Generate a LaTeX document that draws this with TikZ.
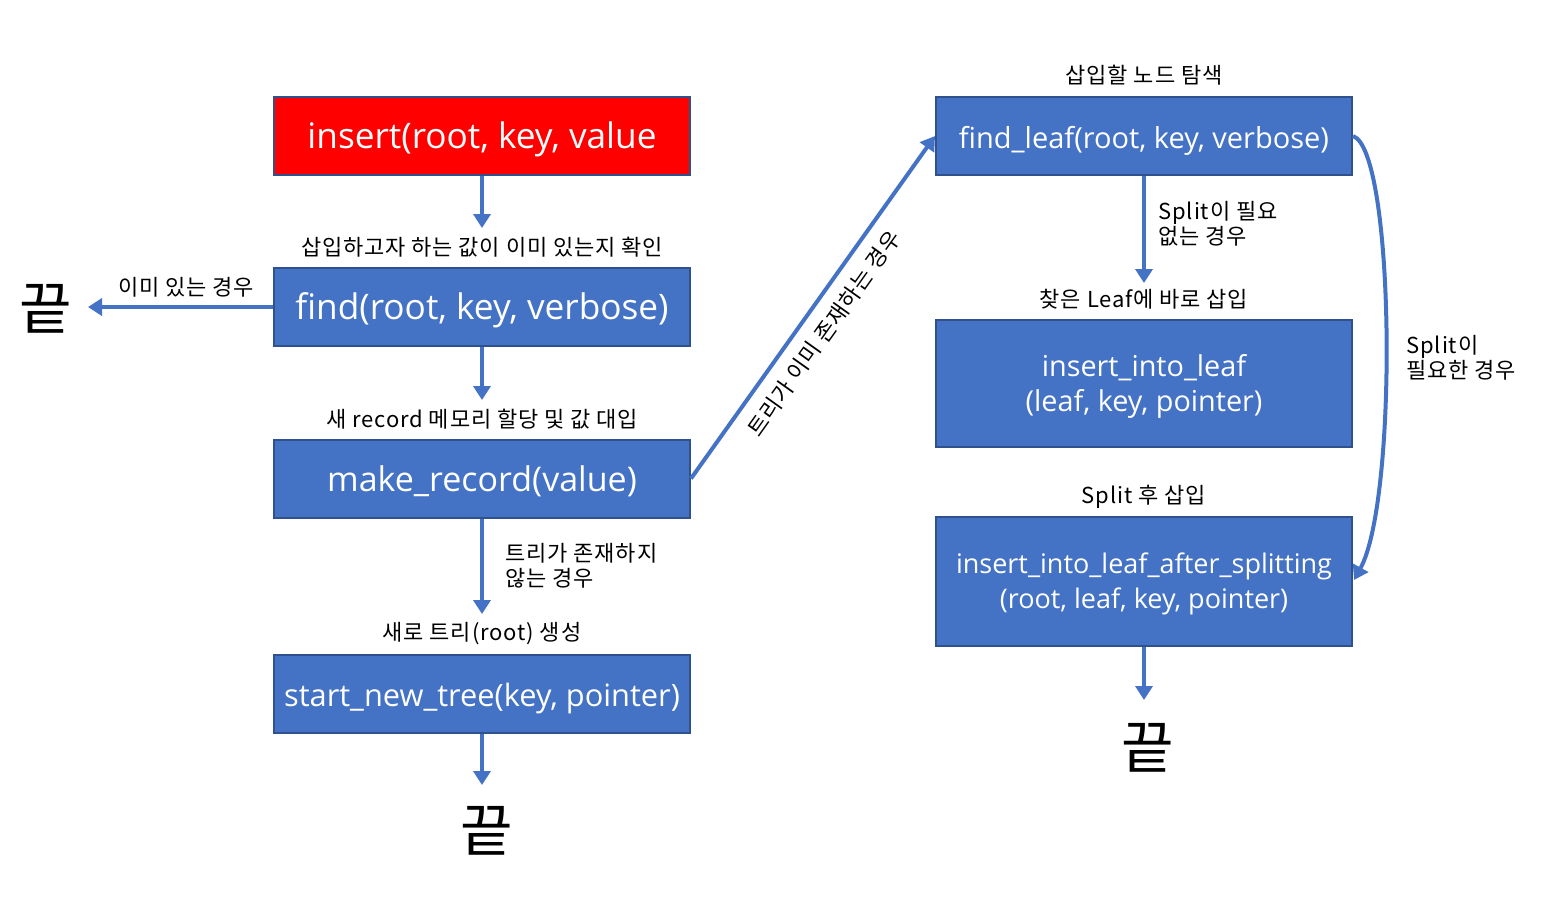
\documentclass[tikz,border=0pt]{standalone}
\usepackage{fontspec}
\setmainfont{Noto Sans CJK KR}[LetterSpace=4]
\newfontfamily\boxfont{Open Sans}
\newfontfamily\endfont{Noto Sans CJK KR}
\usetikzlibrary{arrows.meta}
\definecolor{boxblue}{HTML}{4472C4}
\definecolor{boxedge}{HTML}{2F528F}
\definecolor{boxred}{HTML}{FF0000}
\tikzset{
  x=0.5pt, y=-0.5pt,
  proc/.style={draw=boxedge, line width=1pt, fill=boxblue, text=white,
    minimum width=208pt, minimum height=39pt, inner sep=0pt, align=center},
  fsz/.style={font=\boxfont\fontsize{#1}{17.5}\selectfont},
  one/.style={text height=15.5pt, text depth=3pt},
  two/.style={text depth=0.5pt},
  lbl/.style={font=\fontsize{11}{12}\selectfont, inner sep=1pt, text=black},
  lbll/.style={lbl, align=left, anchor=west, font=\fontsize{11}{12.5}\selectfont},
  fin/.style={font=\endfont\fontsize{28.5}{30}\selectfont, inner sep=0pt},
  conn/.style={draw=boxblue, line width=2pt, -{Triangle[length=7pt,width=8.5pt]}},
}
\begin{document}
\begin{tikzpicture}
\useasboundingbox (0,0) rectangle (1563,918);
% left column
\node[proc, one, fsz=17.6, fill=boxred] (ins) at (482,136) {insert(root, key, value};
\node[proc, one, fsz=17.6] (find) at (482,307) {find(root, key, verbose)};
\node[proc, one, fsz=17.0] (mk) at (482,478.5) {make\_record(value)};
\node[proc, one, fsz=15.4] (snt) at (482,693.5) {start\_new\_tree(key, pointer)};
\node[fin] (e1) at (46,309) {끝};
\node[fin] (e2) at (487,831) {끝};
\coordinate (t1) at (482,228);
\coordinate (t2) at (482,400);
\coordinate (t3) at (482,614);
\coordinate (t4) at (482,785);
\coordinate (t5) at (88,307);
\node[lbl] (l1) at (482,247) {삽입하고자 하는 값이 이미 있는지 확인};
\node[lbl] (l2) at (186,287) {이미 있는 경우};
\node[lbl] (l3) at (482,419) {새 record 메모리 할당 및 값 대입};
\node[lbll] (l4) at (503,566) {트리가 존재하지\\않는 경우};
\node[lbl] (l5) at (482,634) {새로 트리(root) 생성};
\draw[conn] (ins.south) -- (t1);
\draw[conn] (find.west) -- (t5);
\draw[conn] (find.south) -- (t2);
\draw[conn] (mk.south) -- (t3);
\draw[conn] (snt.south) -- (t4);
% right column
\node[proc, one, fsz=14.5] (fl) at (1144,136) {find\_leaf(root, key, verbose)};
\node[proc, two, fsz=14.4, minimum height=63.5pt] (iil) at (1144,383.5) {insert\_into\_leaf\\(leaf, key, pointer)};
\node[proc, two, fsz=13.5, minimum height=64.5pt] (iis) at (1144,581.5) {insert\_into\_leaf\_after\_splitting\\(root, leaf, key, pointer)};
\node[fin] (e3) at (1148,748) {끝};
\coordinate (t6) at (1144,283);
\coordinate (t7) at (1144,700);
\coordinate (t8) at (1354,580);
\node[lbl] (l6) at (1144,75) {삽입할 노드 탐색};
\node[lbll] (l7) at (1156,224) {Split이 필요\\없는 경우};
\node[lbl] (l8) at (1144,299) {찾은 Leaf에 바로 삽입};
\node[lbl] (l9) at (1144,497) {Split 후 삽입};
\node[lbll] (l10) at (1404,358) {Split이\\필요한 경우};
\draw[conn] (fl.south) -- (t6);
\draw[conn] (iis.south) -- (t7);
\draw[conn] (fl.east) .. controls (1395,150) and (1398,500) .. (t8);
% diagonal
\draw[conn] (mk.east) -- (fl.west)
  node[lbl, pos=0.464, sloped, below=5pt] (l11) {트리가 이미 존재하는 경우};
\end{tikzpicture}
\end{document}
